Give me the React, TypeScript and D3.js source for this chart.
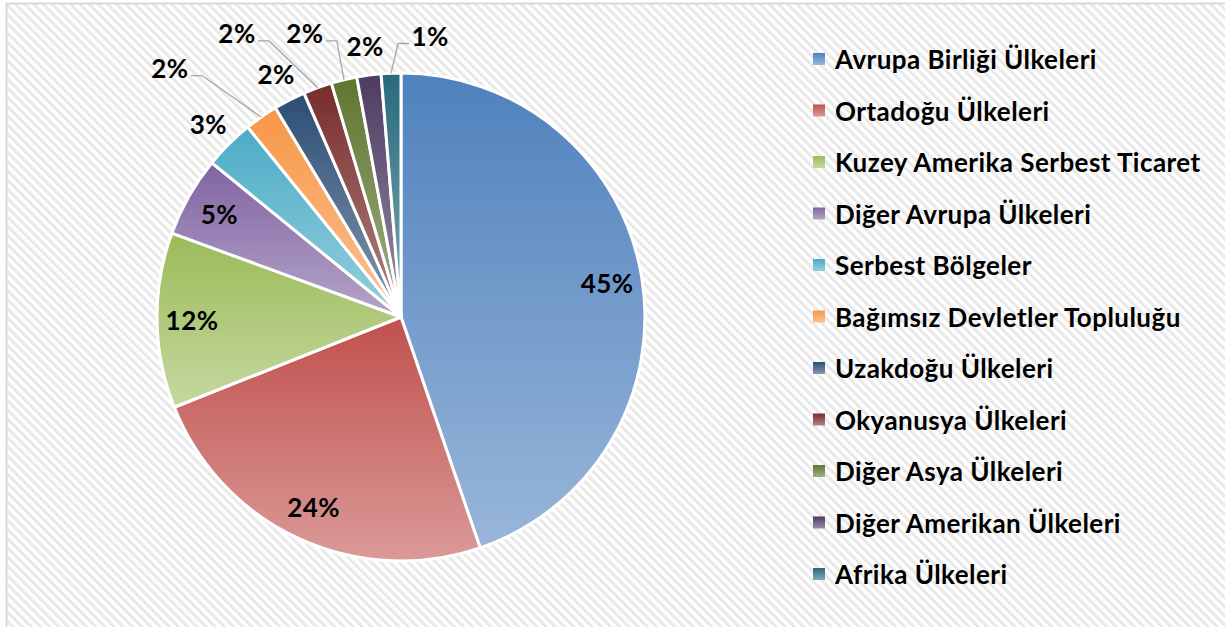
import { useEffect, useRef } from "react";
import * as d3 from "d3";

// bölgelere göre pay (%), grafikteki dilimlerden okunmuş
const regions = [
  "Avrupa Birliği Ülkeleri",
  "Ortadoğu Ülkeleri",
  "Kuzey Amerika Serbest Ticaret",
  "Diğer Avrupa Ülkeleri",
  "Serbest Bölgeler",
  "Bağımsız Devletler Topluluğu",
  "Uzakdoğu Ülkeleri",
  "Okyanusya Ülkeleri",
  "Diğer Asya Ülkeleri",
  "Diğer Amerikan Ülkeleri",
  "Afrika Ülkeleri",
];
const shares = [44.7, 24.2, 11.6, 5.3, 3.3, 2.2, 2.1, 1.9, 1.7, 1.6, 1.3];
const colors = [
  "#4F81BD", "#C0504D", "#9BBB59", "#8064A2", "#4BACC6", "#F79646",
  "#2C4D75", "#772C2A", "#5F7530", "#4D3B62", "#276A7C",
];

export default function App() {
  const ref = useRef<SVGSVGElement>(null);

  useEffect(() => {
    const width = 1225;
    const height = 627;
    const cx = 401;
    const cy = 317;
    const R = 244;

    const svg = d3.select(ref.current);
    svg.selectAll("*").remove();

    const defs = svg.append("defs");

    // çizgili arka plan
    const pat = defs
      .append("pattern")
      .attr("id", "stripes")
      .attr("width", 6.5)
      .attr("height", 6.5)
      .attr("patternUnits", "userSpaceOnUse")
      .attr("patternTransform", "rotate(-45)");
    pat.append("rect").attr("width", 6.5).attr("height", 6.5).attr("fill", "#ffffff");
    pat.append("rect").attr("width", 3).attr("height", 6.5).attr("fill", "#e9e9e9");

    // her dilim için dikey degrade (üst koyu, alt açık)
    colors.forEach((c, i) => {
      const g = defs
        .append("linearGradient")
        .attr("id", "grad" + i)
        .attr("x1", 0)
        .attr("y1", 0)
        .attr("x2", 0)
        .attr("y2", 1);
      g.append("stop").attr("offset", "0%").attr("stop-color", c);
      g.append("stop")
        .attr("offset", "100%")
        .attr("stop-color", d3.interpolateRgb(c, "#ffffff")(0.42));
    });

    svg
      .append("rect")
      .attr("x", 6.5)
      .attr("y", 3.5)
      .attr("width", width)
      .attr("height", height)
      .attr("fill", "url(#stripes)")
      .attr("stroke", "#d9d9d9")
      .attr("stroke-width", 2);

    const pie = d3
      .pie<number>()
      .sort(null)
      .value((d) => d);
    const arcs = pie(shares);

    const arc = d3.arc<d3.PieArcDatum<number>>().innerRadius(0).outerRadius(R);

    const chart = svg.append("g").attr("transform", `translate(${cx},${cy})`);

    chart
      .selectAll("path")
      .data(arcs)
      .join("path")
      .attr("d", arc)
      .attr("fill", (_d, i) => `url(#grad${i})`)
      .attr("stroke", "#ffffff")
      .attr("stroke-width", 3)
      .attr("stroke-linejoin", "round");

    const font = "Lato, 'DejaVu Sans', sans-serif";
    const fontSize = 26;
    const spacing = 0.45;

    // etiket konumları: içeride / dışarıda, bazıları kaydırılmış (açı derece, yarıçap)
    const moved: { [k: number]: { r: number; a: number } } = {
      5: { r: 340, a: 317.2 },
      7: { r: 328, a: 330 },
      8: { r: 300, a: 341.3 },
      10: { r: 283, a: 5.9 },
    };

    const polar = (r: number, deg: number) => {
      const t = (deg * Math.PI) / 180;
      return [r * Math.sin(t), -r * Math.cos(t)];
    };

    arcs.forEach((d, i) => {
      const mid = (((d.startAngle + d.endAngle) / 2) * 180) / Math.PI;
      let pos;
      if (moved[i]) pos = polar(moved[i].r, moved[i].a);
      else if (d.value >= 5) pos = polar(209, mid);
      else pos = polar(273, mid);

      const label = Math.round(d.value) + "%";
      chart
        .append("text")
        .attr("x", pos[0])
        .attr("y", pos[1])
        .attr("text-anchor", "middle")
        .attr("dominant-baseline", "central")
        .attr("font-family", font)
        .attr("font-weight", "bold")
        .attr("font-size", fontSize)
        .attr("letter-spacing", spacing)
        .attr("fill", "#000000")
        .text(label);

      if (moved[i]) {
        const edge = polar(R, mid);
        const half = 17;
        const side = pos[0] < edge[0] ? 1 : -1;
        const startX = pos[0] + side * (half + 4);
        const yy = pos[1] + 8;
        const line = d3.line();
        chart
          .append("path")
          .attr(
            "d",
            line([
              [startX, yy],
              [startX + side * 11, yy],
              [edge[0], edge[1]],
            ])
          )
          .attr("fill", "none")
          .attr("stroke", "#a6a6a6")
          .attr("stroke-width", 1.3);
      }
    });

    // lejant
    const legendY = d3
      .scalePoint<string>()
      .domain(regions)
      .range([59, 574]);

    const legend = svg.append("g");
    regions.forEach((name, i) => {
      const y = legendY(name) as number;
      legend
        .append("rect")
        .attr("x", 813)
        .attr("y", y - 6)
        .attr("width", 12)
        .attr("height", 12)
        .attr("fill", `url(#grad${i})`);
      legend
        .append("text")
        .attr("x", 835)
        .attr("y", y)
        .attr("dominant-baseline", "central")
        .attr("font-family", font)
        .attr("font-weight", "bold")
        .attr("font-size", fontSize)
        .attr("letter-spacing", spacing)
        .attr("fill", "#000000")
        .text(name);
    });
  }, []);

  return (
    <svg
      ref={ref}
      width={1225}
      height={627}
      style={{ position: "absolute", left: 0, top: 0 }}
    ></svg>
  );
}
